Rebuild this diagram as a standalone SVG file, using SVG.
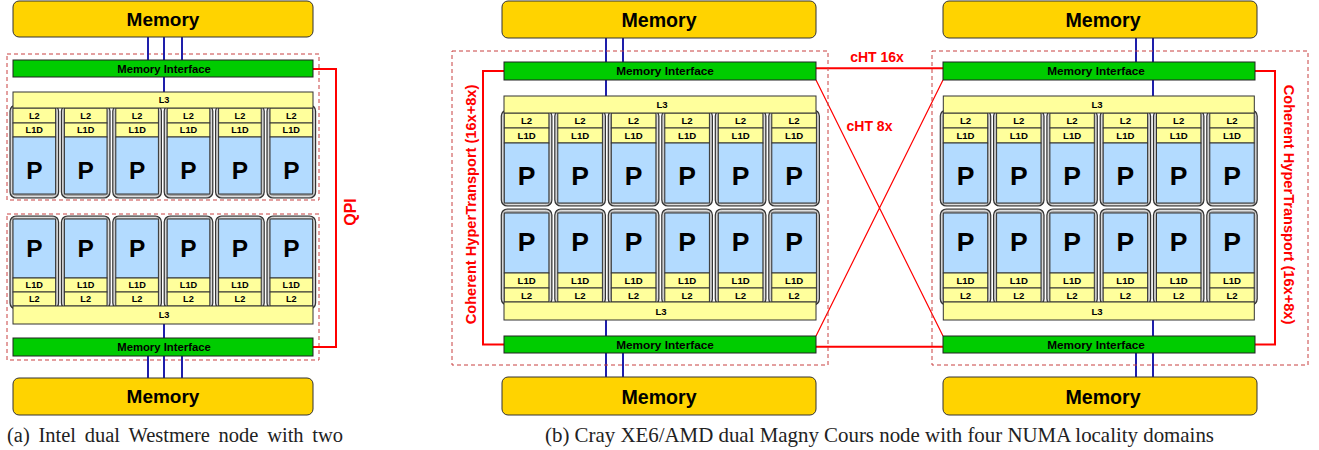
<svg xmlns="http://www.w3.org/2000/svg" width="1319" height="450" viewBox="0 0 1319 450">
<style>
text{font-family:"Liberation Sans",Arial,sans-serif;font-weight:bold;text-anchor:middle;dominant-baseline:central;fill:#000}
.mem{fill:#FFD300;stroke:#333;stroke-width:1}
.mi{fill:#00CC00;stroke:#222;stroke-width:1}
.l3{fill:#FFFF9C;stroke:#333;stroke-width:1}
.c{fill:#FFFF9C;stroke:#333;stroke-width:1}
.p{fill:#B3DBFF;stroke:#333;stroke-width:1}
.fr{fill:#A8A8A8;stroke:#333;stroke-width:1.2}
.frh{fill:none;stroke:#EEE;stroke-width:0.8}
.dash{fill:none;stroke:#C84040;stroke-width:1;stroke-dasharray:4 3}
.blue{stroke:#1E1EAA;stroke-width:2;fill:none}
.red{stroke:#FF0000;stroke-width:2;fill:none}
.redt{stroke:#FF0000;stroke-width:1.2;fill:none}
.tm{font-size:19px}
.tmb{font-size:19.6px}
.tmi{font-size:11.3px}
.tmib{font-size:11.8px}
.t9{font-size:9.2px}
.t9b{font-size:9.6px}
.tp{font-size:24.5px}
.tpb{font-size:26.5px}
.rl{fill:#FF0000}
.cap{font-family:"Liberation Serif","Times New Roman",serif;font-weight:normal;text-anchor:start;dominant-baseline:auto;fill:#222;font-size:20.5px}
.capb{font-size:20.9px}
</style>

<!-- ================= (a) Intel ================= -->
<g id="a-dashed">
<rect class="dash" x="7" y="54" width="312" height="146"/>
<rect class="dash" x="7" y="214" width="312" height="146"/>
</g>

<g id="connectors">
<path class="blue" d="M148 37V60M164 37V60M182 37V60M164 77V92M164 324V338M148 356V378M164 356V378M182 356V378"/>
<path class="red" d="M313 69H336V347H313"/>
<path class="blue" d="M606 38V62M623 38V62M606 80V96M606 320V336M606 353V377M623 353V377"/>
<path class="blue" d="M1136 38V62M1153 38V62M1153 80V96M1153 320V336M1136 353V377M1153 353V377"/>
<path class="red" d="M504 71H483V344.5H504"/>
<path class="red" d="M1255 71H1275V344.5H1255"/>
<path class="red" d="M816 68.3H943M816 346.7H943"/>
<path class="redt" d="M816 80L943 336M816 336L943 80"/>
</g>

<g id="a-mem-top"><rect class="mem" x="13" y="1" width="300" height="36" rx="6"/><text class="tm" x="163" y="19.5">Memory</text></g>
<g id="a-mi-top"><rect class="mi" x="13" y="60" width="300" height="17"/><text class="tmi" x="164" y="68.5">Memory Interface</text></g>

<g id="a-top-c1" transform="translate(13,0)"><rect class="fr" x="-3" y="105" width="48.6" height="93" rx="6"/><rect class="frh" x="-1.6" y="106.5" width="45.8" height="90" rx="5"/><rect class="c" x="0" y="108" width="42.6" height="15"/><text class="t9" x="21.3" y="115.5">L2</text><rect class="c" x="0" y="123" width="42.6" height="14"/><text class="t9" x="21.3" y="130">L1D</text><rect class="p" x="0" y="137" width="42.6" height="57"/><text class="tp" x="21.3" y="170">P</text></g>
<g id="a-top-c2" transform="translate(64.4,0)"><rect class="fr" x="-3" y="105" width="48.6" height="93" rx="6"/><rect class="frh" x="-1.6" y="106.5" width="45.8" height="90" rx="5"/><rect class="c" x="0" y="108" width="42.6" height="15"/><text class="t9" x="21.3" y="115.5">L2</text><rect class="c" x="0" y="123" width="42.6" height="14"/><text class="t9" x="21.3" y="130">L1D</text><rect class="p" x="0" y="137" width="42.6" height="57"/><text class="tp" x="21.3" y="170">P</text></g>
<g id="a-top-c3" transform="translate(115.8,0)"><rect class="fr" x="-3" y="105" width="48.6" height="93" rx="6"/><rect class="frh" x="-1.6" y="106.5" width="45.8" height="90" rx="5"/><rect class="c" x="0" y="108" width="42.6" height="15"/><text class="t9" x="21.3" y="115.5">L2</text><rect class="c" x="0" y="123" width="42.6" height="14"/><text class="t9" x="21.3" y="130">L1D</text><rect class="p" x="0" y="137" width="42.6" height="57"/><text class="tp" x="21.3" y="170">P</text></g>
<g id="a-top-c4" transform="translate(167.2,0)"><rect class="fr" x="-3" y="105" width="48.6" height="93" rx="6"/><rect class="frh" x="-1.6" y="106.5" width="45.8" height="90" rx="5"/><rect class="c" x="0" y="108" width="42.6" height="15"/><text class="t9" x="21.3" y="115.5">L2</text><rect class="c" x="0" y="123" width="42.6" height="14"/><text class="t9" x="21.3" y="130">L1D</text><rect class="p" x="0" y="137" width="42.6" height="57"/><text class="tp" x="21.3" y="170">P</text></g>
<g id="a-top-c5" transform="translate(218.6,0)"><rect class="fr" x="-3" y="105" width="48.6" height="93" rx="6"/><rect class="frh" x="-1.6" y="106.5" width="45.8" height="90" rx="5"/><rect class="c" x="0" y="108" width="42.6" height="15"/><text class="t9" x="21.3" y="115.5">L2</text><rect class="c" x="0" y="123" width="42.6" height="14"/><text class="t9" x="21.3" y="130">L1D</text><rect class="p" x="0" y="137" width="42.6" height="57"/><text class="tp" x="21.3" y="170">P</text></g>
<g id="a-top-c6" transform="translate(270,0)"><rect class="fr" x="-3" y="105" width="48.6" height="93" rx="6"/><rect class="frh" x="-1.6" y="106.5" width="45.8" height="90" rx="5"/><rect class="c" x="0" y="108" width="42.6" height="15"/><text class="t9" x="21.3" y="115.5">L2</text><rect class="c" x="0" y="123" width="42.6" height="14"/><text class="t9" x="21.3" y="130">L1D</text><rect class="p" x="0" y="137" width="42.6" height="57"/><text class="tp" x="21.3" y="170">P</text></g>
<g id="a-l3-top"><rect class="l3" x="13" y="92" width="300" height="16"/><text class="t9" x="164" y="100">L3</text></g>

<g id="a-bot-c1" transform="translate(13,0)"><rect class="fr" x="-3" y="216" width="48.6" height="93" rx="6"/><rect class="frh" x="-1.6" y="217.5" width="45.8" height="90" rx="5"/><rect class="p" x="0" y="219" width="42.6" height="59"/><text class="tp" x="21.3" y="248">P</text><rect class="c" x="0" y="278" width="42.6" height="14"/><text class="t9" x="21.3" y="285">L1D</text><rect class="c" x="0" y="292" width="42.6" height="14"/><text class="t9" x="21.3" y="299">L2</text></g>
<g id="a-bot-c2" transform="translate(64.4,0)"><rect class="fr" x="-3" y="216" width="48.6" height="93" rx="6"/><rect class="frh" x="-1.6" y="217.5" width="45.8" height="90" rx="5"/><rect class="p" x="0" y="219" width="42.6" height="59"/><text class="tp" x="21.3" y="248">P</text><rect class="c" x="0" y="278" width="42.6" height="14"/><text class="t9" x="21.3" y="285">L1D</text><rect class="c" x="0" y="292" width="42.6" height="14"/><text class="t9" x="21.3" y="299">L2</text></g>
<g id="a-bot-c3" transform="translate(115.8,0)"><rect class="fr" x="-3" y="216" width="48.6" height="93" rx="6"/><rect class="frh" x="-1.6" y="217.5" width="45.8" height="90" rx="5"/><rect class="p" x="0" y="219" width="42.6" height="59"/><text class="tp" x="21.3" y="248">P</text><rect class="c" x="0" y="278" width="42.6" height="14"/><text class="t9" x="21.3" y="285">L1D</text><rect class="c" x="0" y="292" width="42.6" height="14"/><text class="t9" x="21.3" y="299">L2</text></g>
<g id="a-bot-c4" transform="translate(167.2,0)"><rect class="fr" x="-3" y="216" width="48.6" height="93" rx="6"/><rect class="frh" x="-1.6" y="217.5" width="45.8" height="90" rx="5"/><rect class="p" x="0" y="219" width="42.6" height="59"/><text class="tp" x="21.3" y="248">P</text><rect class="c" x="0" y="278" width="42.6" height="14"/><text class="t9" x="21.3" y="285">L1D</text><rect class="c" x="0" y="292" width="42.6" height="14"/><text class="t9" x="21.3" y="299">L2</text></g>
<g id="a-bot-c5" transform="translate(218.6,0)"><rect class="fr" x="-3" y="216" width="48.6" height="93" rx="6"/><rect class="frh" x="-1.6" y="217.5" width="45.8" height="90" rx="5"/><rect class="p" x="0" y="219" width="42.6" height="59"/><text class="tp" x="21.3" y="248">P</text><rect class="c" x="0" y="278" width="42.6" height="14"/><text class="t9" x="21.3" y="285">L1D</text><rect class="c" x="0" y="292" width="42.6" height="14"/><text class="t9" x="21.3" y="299">L2</text></g>
<g id="a-bot-c6" transform="translate(270,0)"><rect class="fr" x="-3" y="216" width="48.6" height="93" rx="6"/><rect class="frh" x="-1.6" y="217.5" width="45.8" height="90" rx="5"/><rect class="p" x="0" y="219" width="42.6" height="59"/><text class="tp" x="21.3" y="248">P</text><rect class="c" x="0" y="278" width="42.6" height="14"/><text class="t9" x="21.3" y="285">L1D</text><rect class="c" x="0" y="292" width="42.6" height="14"/><text class="t9" x="21.3" y="299">L2</text></g>
<g id="a-l3-bot"><rect class="l3" x="13" y="306" width="300" height="18"/><text class="t9" x="164" y="315">L3</text></g>

<g id="a-mi-bot"><rect class="mi" x="13" y="338" width="300" height="18"/><text class="tmi" x="164" y="347">Memory Interface</text></g>
<g id="a-mem-bot"><rect class="mem" x="13" y="378" width="300" height="37" rx="6"/><text class="tm" x="163" y="396.5">Memory</text></g>

<g id="a-qpi"><text class="rl" font-size="16" transform="translate(350,212) rotate(-90)">QPI</text></g>

<text class="cap" x="7" y="442" word-spacing="3.6">(a) Intel dual Westmere node with two</text>

<!-- ================= (b) Cray XE6 ================= -->
<g id="b-dashed">
<rect class="dash" x="452" y="51" width="376" height="314"/>
<rect class="dash" x="932" y="51" width="376" height="314"/>
</g>

<g id="b-labels">
<text class="rl" font-size="14" x="877" y="57">cHT 16x</text>
<text class="rl" font-size="14" x="869.5" y="125.5">cHT 8x</text>
<text class="rl" font-size="14.6" transform="translate(471,204.5) rotate(-90)">Coherent HyperTransport (16x+8x)</text>
<text class="rl" font-size="14.6" transform="translate(1288.5,204.5) rotate(90)">Coherent HyperTransport (16x+8x)</text>
</g>

<g id="bl-mem-top"><rect class="mem" x="502" y="1" width="314" height="37" rx="6"/><text class="tmb" x="659" y="20">Memory</text></g>
<g id="bl-mi-top"><rect class="mi" x="504" y="62" width="312" height="18"/><text class="tmib" x="665" y="71">Memory Interface</text></g>

<g id="bl-top-c1" transform="translate(504.3,0)"><rect class="fr" x="-3" y="110" width="50.6" height="96" rx="6"/><rect class="frh" x="-1.6" y="111.5" width="47.8" height="93" rx="5"/><rect class="c" x="0" y="113" width="44.6" height="15"/><text class="t9b" x="22.3" y="120.5">L2</text><rect class="c" x="0" y="128" width="44.6" height="15"/><text class="t9b" x="22.3" y="135.5">L1D</text><rect class="p" x="0" y="143" width="44.6" height="60"/><text class="tpb" x="22.3" y="176">P</text></g>
<g id="bl-top-c2" transform="translate(557.8,0)"><rect class="fr" x="-3" y="110" width="50.6" height="96" rx="6"/><rect class="frh" x="-1.6" y="111.5" width="47.8" height="93" rx="5"/><rect class="c" x="0" y="113" width="44.6" height="15"/><text class="t9b" x="22.3" y="120.5">L2</text><rect class="c" x="0" y="128" width="44.6" height="15"/><text class="t9b" x="22.3" y="135.5">L1D</text><rect class="p" x="0" y="143" width="44.6" height="60"/><text class="tpb" x="22.3" y="176">P</text></g>
<g id="bl-top-c3" transform="translate(611.3,0)"><rect class="fr" x="-3" y="110" width="50.6" height="96" rx="6"/><rect class="frh" x="-1.6" y="111.5" width="47.8" height="93" rx="5"/><rect class="c" x="0" y="113" width="44.6" height="15"/><text class="t9b" x="22.3" y="120.5">L2</text><rect class="c" x="0" y="128" width="44.6" height="15"/><text class="t9b" x="22.3" y="135.5">L1D</text><rect class="p" x="0" y="143" width="44.6" height="60"/><text class="tpb" x="22.3" y="176">P</text></g>
<g id="bl-top-c4" transform="translate(664.8,0)"><rect class="fr" x="-3" y="110" width="50.6" height="96" rx="6"/><rect class="frh" x="-1.6" y="111.5" width="47.8" height="93" rx="5"/><rect class="c" x="0" y="113" width="44.6" height="15"/><text class="t9b" x="22.3" y="120.5">L2</text><rect class="c" x="0" y="128" width="44.6" height="15"/><text class="t9b" x="22.3" y="135.5">L1D</text><rect class="p" x="0" y="143" width="44.6" height="60"/><text class="tpb" x="22.3" y="176">P</text></g>
<g id="bl-top-c5" transform="translate(718.3,0)"><rect class="fr" x="-3" y="110" width="50.6" height="96" rx="6"/><rect class="frh" x="-1.6" y="111.5" width="47.8" height="93" rx="5"/><rect class="c" x="0" y="113" width="44.6" height="15"/><text class="t9b" x="22.3" y="120.5">L2</text><rect class="c" x="0" y="128" width="44.6" height="15"/><text class="t9b" x="22.3" y="135.5">L1D</text><rect class="p" x="0" y="143" width="44.6" height="60"/><text class="tpb" x="22.3" y="176">P</text></g>
<g id="bl-top-c6" transform="translate(771.8,0)"><rect class="fr" x="-3" y="110" width="50.6" height="96" rx="6"/><rect class="frh" x="-1.6" y="111.5" width="47.8" height="93" rx="5"/><rect class="c" x="0" y="113" width="44.6" height="15"/><text class="t9b" x="22.3" y="120.5">L2</text><rect class="c" x="0" y="128" width="44.6" height="15"/><text class="t9b" x="22.3" y="135.5">L1D</text><rect class="p" x="0" y="143" width="44.6" height="60"/><text class="tpb" x="22.3" y="176">P</text></g>
<g id="bl-l3-top"><rect class="l3" x="504" y="96" width="312" height="17"/><text class="t9b" x="662" y="104.5">L3</text></g>

<g id="bl-bot-c1" transform="translate(504.3,0)"><rect class="fr" x="-3" y="209" width="50.6" height="96" rx="6"/><rect class="frh" x="-1.6" y="210.5" width="47.8" height="93" rx="5"/><rect class="p" x="0" y="213" width="44.6" height="60"/><text class="tpb" x="22.3" y="242">P</text><rect class="c" x="0" y="273" width="44.6" height="15"/><text class="t9b" x="22.3" y="280.5">L1D</text><rect class="c" x="0" y="288" width="44.6" height="14"/><text class="t9b" x="22.3" y="295">L2</text></g>
<g id="bl-bot-c2" transform="translate(557.8,0)"><rect class="fr" x="-3" y="209" width="50.6" height="96" rx="6"/><rect class="frh" x="-1.6" y="210.5" width="47.8" height="93" rx="5"/><rect class="p" x="0" y="213" width="44.6" height="60"/><text class="tpb" x="22.3" y="242">P</text><rect class="c" x="0" y="273" width="44.6" height="15"/><text class="t9b" x="22.3" y="280.5">L1D</text><rect class="c" x="0" y="288" width="44.6" height="14"/><text class="t9b" x="22.3" y="295">L2</text></g>
<g id="bl-bot-c3" transform="translate(611.3,0)"><rect class="fr" x="-3" y="209" width="50.6" height="96" rx="6"/><rect class="frh" x="-1.6" y="210.5" width="47.8" height="93" rx="5"/><rect class="p" x="0" y="213" width="44.6" height="60"/><text class="tpb" x="22.3" y="242">P</text><rect class="c" x="0" y="273" width="44.6" height="15"/><text class="t9b" x="22.3" y="280.5">L1D</text><rect class="c" x="0" y="288" width="44.6" height="14"/><text class="t9b" x="22.3" y="295">L2</text></g>
<g id="bl-bot-c4" transform="translate(664.8,0)"><rect class="fr" x="-3" y="209" width="50.6" height="96" rx="6"/><rect class="frh" x="-1.6" y="210.5" width="47.8" height="93" rx="5"/><rect class="p" x="0" y="213" width="44.6" height="60"/><text class="tpb" x="22.3" y="242">P</text><rect class="c" x="0" y="273" width="44.6" height="15"/><text class="t9b" x="22.3" y="280.5">L1D</text><rect class="c" x="0" y="288" width="44.6" height="14"/><text class="t9b" x="22.3" y="295">L2</text></g>
<g id="bl-bot-c5" transform="translate(718.3,0)"><rect class="fr" x="-3" y="209" width="50.6" height="96" rx="6"/><rect class="frh" x="-1.6" y="210.5" width="47.8" height="93" rx="5"/><rect class="p" x="0" y="213" width="44.6" height="60"/><text class="tpb" x="22.3" y="242">P</text><rect class="c" x="0" y="273" width="44.6" height="15"/><text class="t9b" x="22.3" y="280.5">L1D</text><rect class="c" x="0" y="288" width="44.6" height="14"/><text class="t9b" x="22.3" y="295">L2</text></g>
<g id="bl-bot-c6" transform="translate(771.8,0)"><rect class="fr" x="-3" y="209" width="50.6" height="96" rx="6"/><rect class="frh" x="-1.6" y="210.5" width="47.8" height="93" rx="5"/><rect class="p" x="0" y="213" width="44.6" height="60"/><text class="tpb" x="22.3" y="242">P</text><rect class="c" x="0" y="273" width="44.6" height="15"/><text class="t9b" x="22.3" y="280.5">L1D</text><rect class="c" x="0" y="288" width="44.6" height="14"/><text class="t9b" x="22.3" y="295">L2</text></g>
<g id="bl-l3-bot"><rect class="l3" x="504" y="302" width="312" height="18"/><text class="t9b" x="661" y="311">L3</text></g>

<g id="bl-mi-bot"><rect class="mi" x="504" y="336" width="312" height="17"/><text class="tmib" x="665" y="344.5">Memory Interface</text></g>
<g id="bl-mem-bot"><rect class="mem" x="502" y="377" width="314" height="38" rx="6"/><text class="tmb" x="659" y="396.5">Memory</text></g>

<g id="br-mem-top"><rect class="mem" x="943" y="1" width="314" height="37" rx="6"/><text class="tmb" x="1103" y="20">Memory</text></g>
<g id="br-mi-top"><rect class="mi" x="943" y="62" width="312" height="18"/><text class="tmib" x="1096" y="71">Memory Interface</text></g>

<g id="br-top-c1" transform="translate(943.3,0)"><rect class="fr" x="-3" y="110" width="50.4" height="96" rx="6"/><rect class="frh" x="-1.6" y="111.5" width="47.6" height="93" rx="5"/><rect class="c" x="0" y="113" width="44.4" height="15"/><text class="t9b" x="22.2" y="120.5">L2</text><rect class="c" x="0" y="128" width="44.4" height="15"/><text class="t9b" x="22.2" y="135.5">L1D</text><rect class="p" x="0" y="143" width="44.4" height="60"/><text class="tpb" x="22.2" y="176">P</text></g>
<g id="br-top-c2" transform="translate(996.6,0)"><rect class="fr" x="-3" y="110" width="50.4" height="96" rx="6"/><rect class="frh" x="-1.6" y="111.5" width="47.6" height="93" rx="5"/><rect class="c" x="0" y="113" width="44.4" height="15"/><text class="t9b" x="22.2" y="120.5">L2</text><rect class="c" x="0" y="128" width="44.4" height="15"/><text class="t9b" x="22.2" y="135.5">L1D</text><rect class="p" x="0" y="143" width="44.4" height="60"/><text class="tpb" x="22.2" y="176">P</text></g>
<g id="br-top-c3" transform="translate(1049.9,0)"><rect class="fr" x="-3" y="110" width="50.4" height="96" rx="6"/><rect class="frh" x="-1.6" y="111.5" width="47.6" height="93" rx="5"/><rect class="c" x="0" y="113" width="44.4" height="15"/><text class="t9b" x="22.2" y="120.5">L2</text><rect class="c" x="0" y="128" width="44.4" height="15"/><text class="t9b" x="22.2" y="135.5">L1D</text><rect class="p" x="0" y="143" width="44.4" height="60"/><text class="tpb" x="22.2" y="176">P</text></g>
<g id="br-top-c4" transform="translate(1103.2,0)"><rect class="fr" x="-3" y="110" width="50.4" height="96" rx="6"/><rect class="frh" x="-1.6" y="111.5" width="47.6" height="93" rx="5"/><rect class="c" x="0" y="113" width="44.4" height="15"/><text class="t9b" x="22.2" y="120.5">L2</text><rect class="c" x="0" y="128" width="44.4" height="15"/><text class="t9b" x="22.2" y="135.5">L1D</text><rect class="p" x="0" y="143" width="44.4" height="60"/><text class="tpb" x="22.2" y="176">P</text></g>
<g id="br-top-c5" transform="translate(1156.5,0)"><rect class="fr" x="-3" y="110" width="50.4" height="96" rx="6"/><rect class="frh" x="-1.6" y="111.5" width="47.6" height="93" rx="5"/><rect class="c" x="0" y="113" width="44.4" height="15"/><text class="t9b" x="22.2" y="120.5">L2</text><rect class="c" x="0" y="128" width="44.4" height="15"/><text class="t9b" x="22.2" y="135.5">L1D</text><rect class="p" x="0" y="143" width="44.4" height="60"/><text class="tpb" x="22.2" y="176">P</text></g>
<g id="br-top-c6" transform="translate(1209.8,0)"><rect class="fr" x="-3" y="110" width="50.4" height="96" rx="6"/><rect class="frh" x="-1.6" y="111.5" width="47.6" height="93" rx="5"/><rect class="c" x="0" y="113" width="44.4" height="15"/><text class="t9b" x="22.2" y="120.5">L2</text><rect class="c" x="0" y="128" width="44.4" height="15"/><text class="t9b" x="22.2" y="135.5">L1D</text><rect class="p" x="0" y="143" width="44.4" height="60"/><text class="tpb" x="22.2" y="176">P</text></g>
<g id="br-l3-top"><rect class="l3" x="943.3" y="96" width="311" height="17"/><text class="t9b" x="1097" y="104.5">L3</text></g>

<g id="br-bot-c1" transform="translate(943.3,0)"><rect class="fr" x="-3" y="209" width="50.4" height="96" rx="6"/><rect class="frh" x="-1.6" y="210.5" width="47.6" height="93" rx="5"/><rect class="p" x="0" y="213" width="44.4" height="60"/><text class="tpb" x="22.2" y="242">P</text><rect class="c" x="0" y="273" width="44.4" height="15"/><text class="t9b" x="22.2" y="280.5">L1D</text><rect class="c" x="0" y="288" width="44.4" height="14"/><text class="t9b" x="22.2" y="295">L2</text></g>
<g id="br-bot-c2" transform="translate(996.6,0)"><rect class="fr" x="-3" y="209" width="50.4" height="96" rx="6"/><rect class="frh" x="-1.6" y="210.5" width="47.6" height="93" rx="5"/><rect class="p" x="0" y="213" width="44.4" height="60"/><text class="tpb" x="22.2" y="242">P</text><rect class="c" x="0" y="273" width="44.4" height="15"/><text class="t9b" x="22.2" y="280.5">L1D</text><rect class="c" x="0" y="288" width="44.4" height="14"/><text class="t9b" x="22.2" y="295">L2</text></g>
<g id="br-bot-c3" transform="translate(1049.9,0)"><rect class="fr" x="-3" y="209" width="50.4" height="96" rx="6"/><rect class="frh" x="-1.6" y="210.5" width="47.6" height="93" rx="5"/><rect class="p" x="0" y="213" width="44.4" height="60"/><text class="tpb" x="22.2" y="242">P</text><rect class="c" x="0" y="273" width="44.4" height="15"/><text class="t9b" x="22.2" y="280.5">L1D</text><rect class="c" x="0" y="288" width="44.4" height="14"/><text class="t9b" x="22.2" y="295">L2</text></g>
<g id="br-bot-c4" transform="translate(1103.2,0)"><rect class="fr" x="-3" y="209" width="50.4" height="96" rx="6"/><rect class="frh" x="-1.6" y="210.5" width="47.6" height="93" rx="5"/><rect class="p" x="0" y="213" width="44.4" height="60"/><text class="tpb" x="22.2" y="242">P</text><rect class="c" x="0" y="273" width="44.4" height="15"/><text class="t9b" x="22.2" y="280.5">L1D</text><rect class="c" x="0" y="288" width="44.4" height="14"/><text class="t9b" x="22.2" y="295">L2</text></g>
<g id="br-bot-c5" transform="translate(1156.5,0)"><rect class="fr" x="-3" y="209" width="50.4" height="96" rx="6"/><rect class="frh" x="-1.6" y="210.5" width="47.6" height="93" rx="5"/><rect class="p" x="0" y="213" width="44.4" height="60"/><text class="tpb" x="22.2" y="242">P</text><rect class="c" x="0" y="273" width="44.4" height="15"/><text class="t9b" x="22.2" y="280.5">L1D</text><rect class="c" x="0" y="288" width="44.4" height="14"/><text class="t9b" x="22.2" y="295">L2</text></g>
<g id="br-bot-c6" transform="translate(1209.8,0)"><rect class="fr" x="-3" y="209" width="50.4" height="96" rx="6"/><rect class="frh" x="-1.6" y="210.5" width="47.6" height="93" rx="5"/><rect class="p" x="0" y="213" width="44.4" height="60"/><text class="tpb" x="22.2" y="242">P</text><rect class="c" x="0" y="273" width="44.4" height="15"/><text class="t9b" x="22.2" y="280.5">L1D</text><rect class="c" x="0" y="288" width="44.4" height="14"/><text class="t9b" x="22.2" y="295">L2</text></g>
<g id="br-l3-bot"><rect class="l3" x="943.3" y="302" width="311" height="18"/><text class="t9b" x="1097" y="311">L3</text></g>

<g id="br-mi-bot"><rect class="mi" x="943" y="336" width="312" height="17"/><text class="tmib" x="1096" y="344.5">Memory Interface</text></g>
<g id="br-mem-bot"><rect class="mem" x="943" y="377" width="314" height="38" rx="6"/><text class="tmb" x="1103" y="396.5">Memory</text></g>

<text class="cap capb" x="545" y="442">(b) Cray XE6/AMD dual Magny Cours node with four NUMA locality domains</text>
</svg>
